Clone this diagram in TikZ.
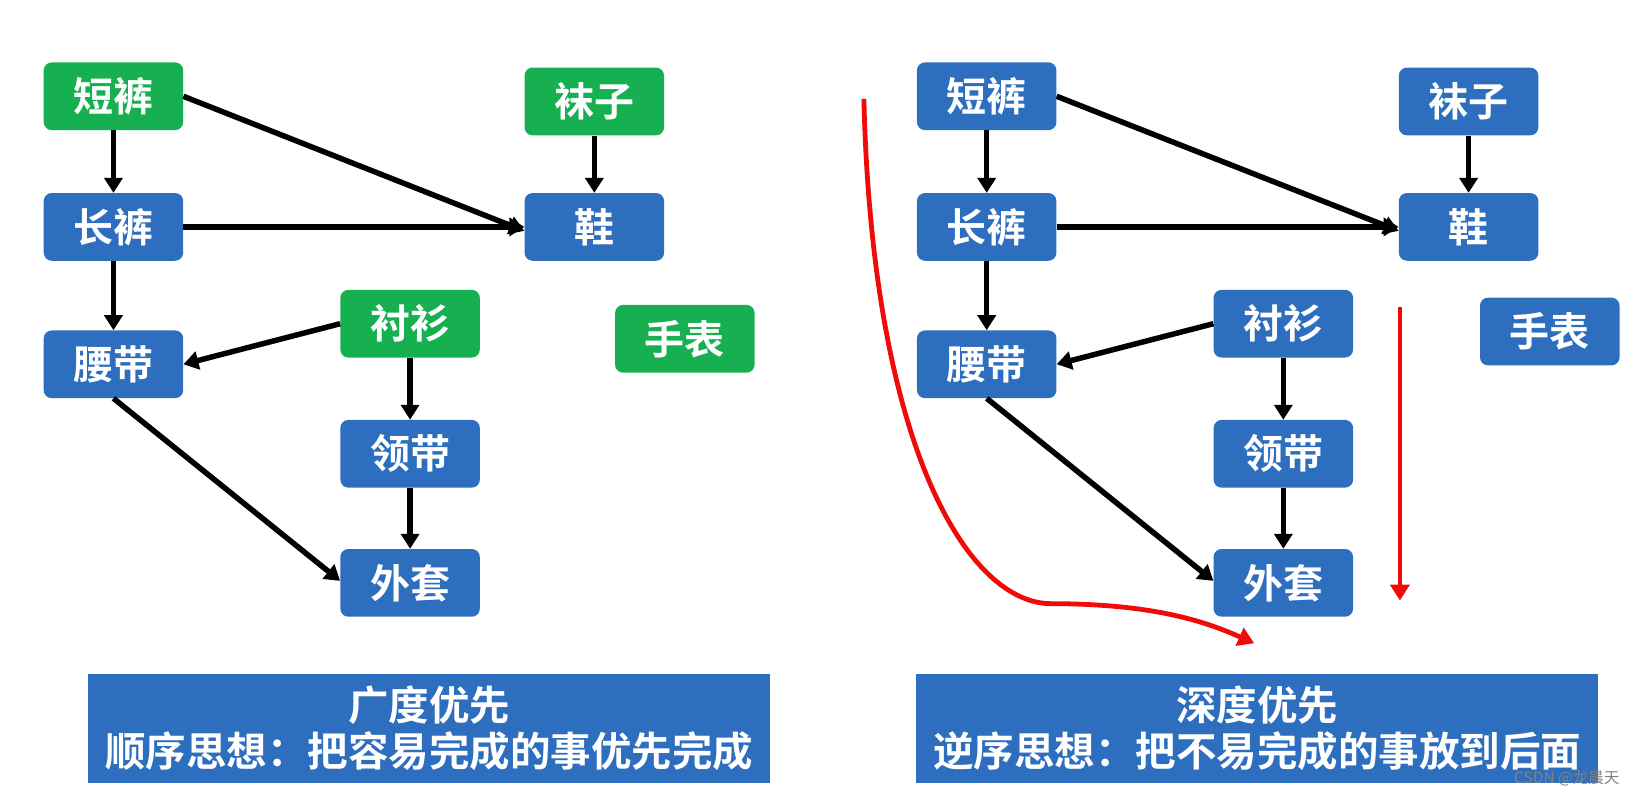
\documentclass[tikz,border=0pt]{standalone}
\usepackage{fontspec}
\setmainfont{Noto Sans CJK SC}[BoldFont=* Bold]
\usetikzlibrary{arrows.meta}
\definecolor{gbox}{RGB}{22,176,80}
\definecolor{bbox}{RGB}{46,110,190}
\definecolor{redline}{RGB}{240,10,10}
\tikzset{
  item/.style={rounded corners=8pt, minimum width=139.5pt, minimum height=67.7pt, inner sep=0pt, text=white, font=\fontsize{40}{42}\selectfont\bfseries},
  gitem/.style={item, fill=gbox},
  bitem/.style={item, fill=bbox},
  conn/.style={line width=5.5pt, -{Triangle[length=15pt,width=18pt]}},
  redarr/.style={draw=redline, line width=4.8pt, -{Triangle[length=16pt,width=19pt]}},
  banner/.style={fill=bbox, minimum width=681.7pt, minimum height=108.2pt, inner sep=0pt, text=white, align=center, font=\fontsize{40.5}{46}\selectfont\bfseries},
}
\begin{document}
\begin{tikzpicture}[x=1.0408pt, y=-1.0408pt]
\useasboundingbox (0,0) rectangle (1568,765);
% left diagram
\node[gitem] (ld) at (109,92.5) {短裤};
\node[bitem] (lc) at (109,218) {长裤};
\node[bitem] (ly) at (109,350) {腰带};
\node[gitem] (lw) at (571,97.5) {袜子};
\node[bitem] (lx) at (571,218) {鞋};
\node[gitem] (ls) at (394,311) {衬衫};
\node[bitem] (ll) at (394,436) {领带};
\node[bitem] (lt) at (394,560) {外套};
\node[gitem] (lb) at (658,325.5) {手表};
\draw[conn] (ld.east) -- ([yshift=-4pt]lx.west);
\draw[conn] (ld.south) -- (lc.north);
\draw[conn] (lc.east) -- (lx.west);
\draw[conn] (lc.south) -- (ly.north);
\draw[conn] (ls.west) -- (ly.east);
\draw[conn] (ls.south) -- (ll.north);
\draw[conn] (ll.south) -- (lt.north);
\draw[conn] (ly.south) -- ([yshift=2pt]lt.west);
\draw[conn] (lw.south) -- (lx.north);
% right diagram
\node[bitem] (rd) at (948,92.5) {短裤};
\node[bitem] (rc) at (948,218) {长裤};
\node[bitem] (ry) at (948,350) {腰带};
\node[bitem] (rw) at (1411,97.5) {袜子};
\node[bitem] (rx) at (1411,218) {鞋};
\node[bitem] (rs) at (1233,311) {衬衫};
\node[bitem] (rl) at (1233,436) {领带};
\node[bitem] (rt) at (1233,560) {外套};
\node[bitem] (rb) at (1489,318.5) {手表};
\draw[conn] (rd.east) -- ([yshift=-4pt]rx.west);
\draw[conn] (rd.south) -- (rc.north);
\draw[conn] (rc.east) -- (rx.west);
\draw[conn] (rc.south) -- (ry.north);
\draw[conn] (rs.west) -- (ry.east);
\draw[conn] (rs.south) -- (rl.north);
\draw[conn] (rl.south) -- (rt.north);
\draw[conn] (ry.south) -- ([yshift=2pt]rt.west);
\draw[conn] (rw.south) -- (rx.north);
% red arrows
\coordinate (c1) at (830,95);
\coordinate (c2) at (1010,580);
\coordinate (c3) at (1205,618);
\draw[redarr] (c1) .. controls (838,430) and (930,580) .. (c2) .. controls (1110,580) and (1160,598) .. (c3);
\coordinate (s1) at (1345,295);
\coordinate (s2) at (1345,577);
\draw[redarr] (s1) -- (s2);
% banners
\node[banner] (bl) at (412.5,700) {广度优先\\顺序思想：把容易完成的事优先完成};
\node[banner] (br) at (1208,700) {深度优先\\逆序思想：把不易完成的事放到后面};
\node[anchor=east, text=gray, inner sep=0pt, font=\fontsize{15.5}{17}\selectfont] (wm) at (1556,748) {CSDN @龙晨天};
\end{tikzpicture}
\end{document}
